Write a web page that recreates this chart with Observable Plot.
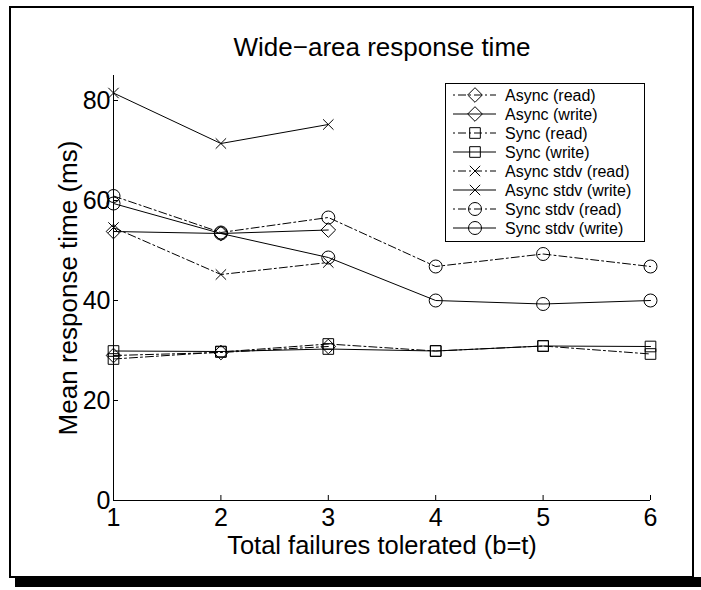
<!DOCTYPE html>
<html>
<head>
<meta charset="utf-8">
<script src="https://cdn.jsdelivr.net/npm/d3@7"></script>
<script src="https://cdn.jsdelivr.net/npm/@observablehq/plot@0.6"></script>
<style>
  body { margin: 0; background: #fff; }
  #wrap { position: relative; width: 701px; height: 590px; overflow: hidden;
          font-family: "Liberation Sans", Arial, Helvetica, sans-serif; }
  #frame { position: absolute; left: 9px; top: 6px; width: 685px; height: 572px;
           border: 2px solid #000; box-sizing: border-box; }
  #shadow { position: absolute; left: 15px; top: 577px; width: 686px; height: 10px; background: #000; }
  #plot { position: absolute; left: 0; top: 0; }
  #legend { position: absolute; left: 445px; top: 83px; width: 200px; height: 159px;
            border: 1px solid #000; box-sizing: border-box; background: #fff; }
</style>
</head>
<body>
<div id="wrap">
  <div id="frame"></div>
  <div id="shadow"></div>
  <div id="plot"></div>
  <div id="legend"></div>
</div>
<script>
// ---- data ----
const titleText = "Wide\u2212area response time";
const xLabel = "Total failures tolerated (b=t)";
const yLabel = "Mean response time (ms)";
const xTicks = [1, 2, 3, 4, 5, 6];
const yTicks = [0, 20, 40, 60, 80];
const failures = [1, 2, 3, 4, 5, 6];

const asyncRead      = [29.0, 29.6, 30.8];
const asyncWrite     = [53.8, 53.4, 54.1];
const syncRead       = [28.3, 29.7, 31.3, 29.9, 30.9, 29.3];
const syncWrite      = [29.9, 29.8, 30.3, 29.9, 30.9, 30.8];
const asyncStdvRead  = [54.6, 45.2, 47.6];
const asyncStdvWrite = [81.5, 71.4, 75.2];
const syncStdvRead   = [60.9, 53.6, 56.6, 46.8, 49.3, 46.8];
const syncStdvWrite  = [59.4, 53.4, 48.6, 40.0, 39.3, 40.0];

const seriesNames = ["Async (read)", "Async (write)", "Sync (read)", "Sync (write)",
                     "Async stdv (read)", "Async stdv (write)", "Sync stdv (read)", "Sync stdv (write)"];
const seriesValues = [asyncRead, asyncWrite, syncRead, syncWrite,
                      asyncStdvRead, asyncStdvWrite, syncStdvRead, syncStdvWrite];

// ---- styles ----
const DASHDOT = "8,3,2,3";
const styles = [
  {symbol: "diamond2", r: 6.6, dash: DASHDOT},
  {symbol: "diamond2", r: 6.6, dash: null},
  {symbol: "square",   r: 6.0, dash: DASHDOT},
  {symbol: "square",   r: 6.0, dash: null},
  {symbol: "times",    r: 4.8, dash: DASHDOT},
  {symbol: "times",    r: 4.8, dash: null},
  {symbol: "circle",   r: 6.5, dash: DASHDOT},
  {symbol: "circle",   r: 6.5, dash: null}
];

const tables = seriesValues.map((vals, i) =>
  vals.map((v, j) => ({x: failures[j], y: v, series: seriesNames[i]})));

const W = 701, H = 590;
const mL = 113, mR = 51, mT = 75, mB = 90;
const frameW = W - mL - mR, frameH = H - mT - mB;
const FONT = "'Liberation Sans', Arial, Helvetica, sans-serif";

const seriesMarks = [];
tables.forEach((rows, i) => {
  const s = styles[i];
  seriesMarks.push(Plot.line(rows, {x: "x", y: "y", stroke: "black", strokeWidth: 1,
    strokeDasharray: s.dash || undefined}));
  seriesMarks.push(Plot.dot(rows, {x: "x", y: "y", symbol: () => s.symbol, r: s.r,
    stroke: "black", fill: "none", strokeWidth: 1}));
});

const chart = Plot.plot({
  width: W, height: H,
  marginLeft: mL, marginRight: mR, marginTop: mT, marginBottom: mB,
  x: {domain: [xTicks[0], xTicks[xTicks.length - 1]]},
  y: {domain: [0, 85]},
  symbol: {type: "identity"},
  style: {fontFamily: FONT, background: "transparent", color: "black", overflow: "visible"},
  marks: [
    Plot.ruleX([xTicks[0]], {stroke: "black", strokeWidth: 1}),
    Plot.ruleY([yTicks[0]], {stroke: "black", strokeWidth: 1}),
    Plot.tickY(yTicks, {y: d => d, insetRight: frameW - 5, stroke: "black"}),
    Plot.tickX(xTicks, {x: d => d, insetTop: frameH - 5, stroke: "black"}),
    ...seriesMarks,
    Plot.axisX({ticks: xTicks, tickSize: 0, tickPadding: 8, fontSize: 25, label: null,
      tickFormat: d => String(d), fill: "black"}),
    Plot.axisY({ticks: yTicks, tickSize: 0, tickPadding: 3, fontSize: 25, label: null,
      tickFormat: d => String(d), fill: "black"}),
    Plot.text([xLabel], {text: d => d, frameAnchor: "bottom", lineAnchor: "bottom", dy: 53,
      textAnchor: "middle", fontSize: 25.5, fill: "black"}),
    Plot.text([yLabel], {text: d => d, frameAnchor: "left", lineAnchor: "bottom", rotate: -90,
      textAnchor: "middle", dx: -37, fontSize: 26, fill: "black"}),
    Plot.text([titleText], {text: d => d, frameAnchor: "top", lineAnchor: "bottom", dy: -20,
      textAnchor: "middle", fontSize: 26, fill: "black"})
  ]
});
document.getElementById("plot").appendChild(chart);

// ---- legend ----
const symbolMap = {diamond2: d3.symbolDiamond2, square: d3.symbolSquare, times: d3.symbolTimes, circle: d3.symbolCircle};
const lg = d3.select("#legend").append("svg").attr("width", 198).attr("height", 157)
  .style("position", "absolute").style("left", "0px").style("top", "0px");
seriesNames.forEach((name, i) => {
  const s = styles[i];
  const cy = 11 + i * 19;
  const g = lg.append("g").attr("transform", `translate(0,${cy})`);
  g.append("line").attr("x1", 7).attr("x2", 50).attr("y1", 0).attr("y2", 0)
    .attr("stroke", "black").attr("stroke-width", 1)
    .attr("stroke-dasharray", s.dash ? "2,3,8,3" : null);
  if (s.symbol === "circle") {
    g.append("circle").attr("cx", 29).attr("cy", 0).attr("r", s.r)
      .attr("fill", "white").attr("fill-opacity", 0).attr("stroke", "black");
  } else {
    g.append("path").attr("transform", "translate(29,0)")
      .attr("d", d3.symbol(symbolMap[s.symbol], Math.PI * s.r * s.r)())
      .attr("fill", "none").attr("stroke", "black");
  }
  g.append("text").attr("x", 59).attr("y", 0).attr("dy", "0.35em")
    .attr("font-size", 16).attr("font-family", FONT).attr("fill", "black").text(name);
});
</script>
</body>
</html>
